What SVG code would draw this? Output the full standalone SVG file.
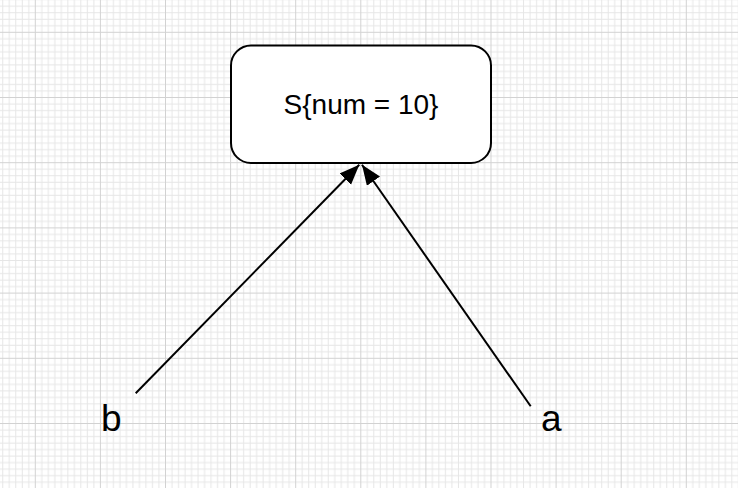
<svg xmlns="http://www.w3.org/2000/svg" width="738" height="488" viewBox="0 0 738 488">
<style>
.node rect{fill:#ffffff;stroke:#000000;stroke-width:2}
.lbl{font-family:"Liberation Sans",Arial,sans-serif;fill:#000000}
.edge{stroke:#000000;stroke-width:2;fill:none}
</style>
<defs>
<pattern id="grid" patternUnits="userSpaceOnUse" x="34.8" y="31.8" width="65.1" height="65.2">
<g fill="#e6e6e6">
<rect x="6.51" y="0" width="1" height="65.2"/><rect x="13.02" y="0" width="1" height="65.2"/><rect x="19.53" y="0" width="1" height="65.2"/><rect x="26.04" y="0" width="1" height="65.2"/><rect x="32.55" y="0" width="1" height="65.2"/><rect x="39.06" y="0" width="1" height="65.2"/><rect x="45.57" y="0" width="1" height="65.2"/><rect x="52.08" y="0" width="1" height="65.2"/><rect x="58.59" y="0" width="1" height="65.2"/>
<rect y="6.52" x="0" height="1" width="65.1"/><rect y="13.04" x="0" height="1" width="65.1"/><rect y="19.56" x="0" height="1" width="65.1"/><rect y="26.08" x="0" height="1" width="65.1"/><rect y="32.6" x="0" height="1" width="65.1"/><rect y="39.12" x="0" height="1" width="65.1"/><rect y="45.64" x="0" height="1" width="65.1"/><rect y="52.16" x="0" height="1" width="65.1"/><rect y="58.68" x="0" height="1" width="65.1"/>
</g>
<rect x="0" y="0" width="1" height="65.2" fill="#d2d2d2"/>
<rect x="0" y="0" width="65.1" height="1" fill="#d2d2d2"/>
</pattern>
<marker id="arrow" markerUnits="userSpaceOnUse" markerWidth="22" markerHeight="18" refX="20" refY="8" orient="auto">
<path d="M0,0 L20,8 L0,16 Z" fill="#000000"/>
</marker>
</defs>
<rect x="0" y="0" width="738" height="488" fill="#ffffff"/>
<rect x="0" y="0" width="738" height="488" fill="url(#grid)"/>
<g id="connectors">
<path class="edge" d="M135.7,393.3 L359.3,164.8" marker-end="url(#arrow)"/>
<path class="edge" d="M530.7,406.3 L362,164.8" marker-end="url(#arrow)"/>
</g>
<g id="node-s" class="node">
<rect x="231" y="45.5" width="260" height="117.5" rx="20" ry="20"/>
<text class="lbl" x="361" y="114" font-size="28" text-anchor="middle">S{num = 10}</text>
</g>
<g id="node-b">
<text class="lbl" x="101" y="430.7" font-size="37">b</text>
</g>
<g id="node-a">
<text class="lbl" x="541" y="430.7" font-size="37">a</text>
</g>
</svg>
